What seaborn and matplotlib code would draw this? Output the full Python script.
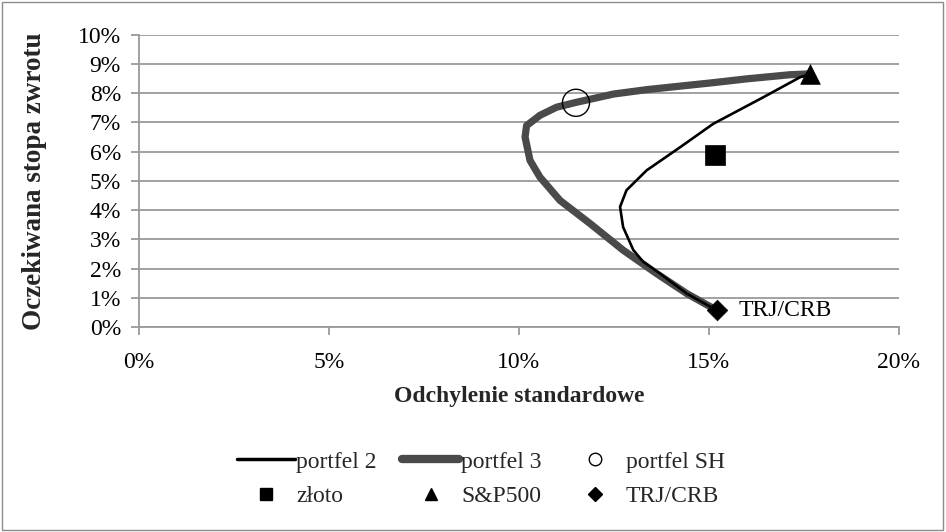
import matplotlib
matplotlib.use("Agg")
import matplotlib.pyplot as plt
import matplotlib.ticker as mticker
from matplotlib.lines import Line2D
from matplotlib.patches import Rectangle
import seaborn as sns
import pandas as pd

# Efficient frontier curves (standard deviation, expected return)
p2_sd = [0.1766, 0.1739, 0.1643, 0.1511, 0.1424, 0.1336, 0.1283, 0.1266, 0.1274,
         0.1301, 0.1327, 0.1371, 0.1441, 0.1511, 0.1520]
p2_ret = [0.0866, 0.0854, 0.0786, 0.0695, 0.0615, 0.0536, 0.0468, 0.0411, 0.0342,
          0.0263, 0.0223, 0.0183, 0.0115, 0.0064, 0.0058]

p3_sd = [0.1766, 0.1713, 0.1600, 0.1512, 0.1424, 0.1336, 0.1249, 0.1152, 0.1099,
         0.1055, 0.1020, 0.1016, 0.1029, 0.1055, 0.1108, 0.1187, 0.1274, 0.1362,
         0.1441, 0.1511, 0.1520]
p3_ret = [0.0866, 0.0863, 0.0849, 0.0836, 0.0824, 0.0812, 0.0797, 0.0769, 0.0752,
          0.0724, 0.0689, 0.0650, 0.0570, 0.0513, 0.0433, 0.0354, 0.0263, 0.0183,
          0.0115, 0.0064, 0.0058]

# Individual assets and the SH portfolio
point_names = ["portfel SH", "złoto", "S&P500", "TRJ/CRB"]
point_sd = [0.1150, 0.1516, 0.1766, 0.1520]
point_ret = [0.0767, 0.0589, 0.0866, 0.0058]

x_ticks = [0.00, 0.05, 0.10, 0.15, 0.20]
y_ticks = [0.00, 0.01, 0.02, 0.03, 0.04, 0.05, 0.06, 0.07, 0.08, 0.09, 0.10]

sns.set_theme(style="white")
plt.rcParams["font.family"] = ["Liberation Serif", "DejaVu Serif"]

GRID = "#9a9a9a"
DARK = "#4a4a4a"
FS = 17

fig = plt.figure(figsize=(9.46, 5.32), dpi=100)
fig.patch.set_facecolor("white")
fig.patches.append(Rectangle((0.002, 0.003), 0.995, 0.993, transform=fig.transFigure,
                             fill=False, edgecolor="#8c8c8c", linewidth=1.0))

ax = fig.add_axes([0.1469, 0.3853, 0.8034, 0.5495])

ax.set_xlim(0, 0.20)
ax.set_ylim(0, 0.10)
ax.set_xticks(x_ticks)
ax.set_yticks(y_ticks)
ax.xaxis.set_major_formatter(mticker.PercentFormatter(1.0, decimals=0))
ax.yaxis.set_major_formatter(mticker.PercentFormatter(1.0, decimals=0))
ax.grid(axis="y", color=GRID, linewidth=1.3)
ax.grid(axis="x", visible=False)
ax.set_axisbelow(True)

for side in ["top", "right"]:
    ax.spines[side].set_visible(False)
for side in ["left", "bottom"]:
    ax.spines[side].set_color(GRID)
    ax.spines[side].set_linewidth(1.3)

ax.tick_params(axis="both", which="major", direction="out", length=6, width=1.3,
               color=GRID, labelsize=FS, labelcolor="black",
               left=True, bottom=True)
ax.tick_params(axis="x", pad=12)
ax.tick_params(axis="y", pad=7)

df3 = pd.DataFrame({"sd": p3_sd, "ret": p3_ret})
df2 = pd.DataFrame({"sd": p2_sd, "ret": p2_ret})
sns.lineplot(data=df3, x="sd", y="ret", sort=False, estimator=None, ax=ax,
             color=DARK, linewidth=5.2, solid_capstyle="round", solid_joinstyle="round")
sns.lineplot(data=df2, x="sd", y="ret", sort=False, estimator=None, ax=ax,
             color="black", linewidth=1.9, solid_joinstyle="round")

marker_map = {"portfel SH": "o", "złoto": "s", "S&P500": "^", "TRJ/CRB": "D"}
size_map = {"portfel SH": 380, "złoto": 190, "S&P500": 200, "TRJ/CRB": 110}
for name, sx, sy in zip(point_names, point_sd, point_ret):
    if name == "portfel SH":
        sns.scatterplot(x=[sx], y=[sy], ax=ax, marker="o", s=size_map[name],
                        facecolors="none", edgecolor="black", linewidth=1.0, zorder=5)
    else:
        sns.scatterplot(x=[sx], y=[sy], ax=ax, marker=marker_map[name], s=size_map[name],
                        color="black", edgecolor="black", linewidth=0.5, zorder=5)

ax.annotate("TRJ/CRB", xy=(point_sd[3], point_ret[3]), xytext=(16, 0),
            textcoords="offset points", va="center", ha="left", fontsize=FS,
            color="black")

ax.set_xlabel("Odchylenie standardowe", fontsize=FS, fontweight="bold", labelpad=9)
ax.set_ylabel("Oczekiwana stopa zwrotu", fontsize=19.5, fontweight="bold", labelpad=22)

handles = [
    Line2D([], [], color="black", linewidth=2.5),
    Line2D([], [], marker="s", linestyle="none", color="black", markersize=9),
    Line2D([], [], color=DARK, linewidth=6, solid_capstyle="round"),
    Line2D([], [], marker="^", linestyle="none", color="black", markersize=9),
    Line2D([], [], marker="o", linestyle="none", markerfacecolor="none",
           markeredgecolor="black", markersize=9),
    Line2D([], [], marker="D", linestyle="none", color="black", markersize=7),
]
labels = ["portfel 2", "złoto", "portfel 3", "S&P500", "portfel SH", "TRJ/CRB"]
fig.legend(handles, labels, loc="center", bbox_to_anchor=(481 / 946, 1 - 479 / 532),
           ncol=3, frameon=False, fontsize=FS, handlelength=2.42, handletextpad=0.08,
           columnspacing=1.06, labelspacing=0.53, borderpad=0.0)

fig.savefig("out.png", dpi=100, facecolor="white")
